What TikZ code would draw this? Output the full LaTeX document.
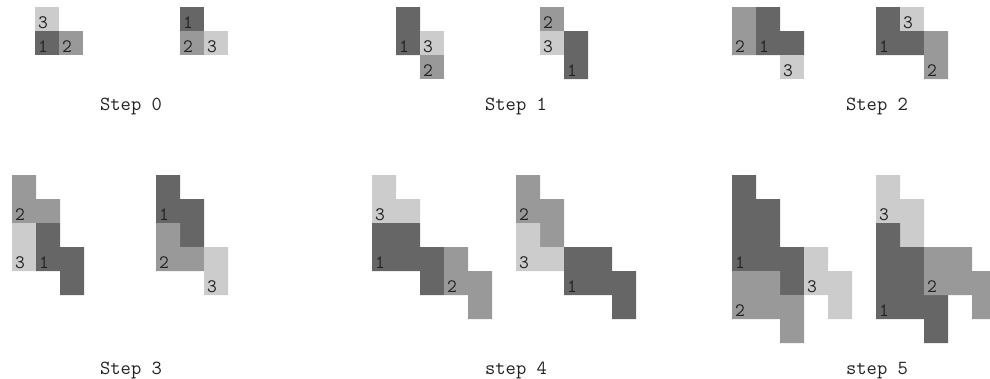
\documentclass[tikz,border=0pt]{standalone}
\usepackage{fontspec}
\definecolor{dk}{HTML}{666666}
\definecolor{md}{HTML}{999999}
\definecolor{lt}{HTML}{CCCCCC}
\definecolor{txt}{HTML}{222222}
\tikzset{
  p1/.style={fill=dk},
  p2/.style={fill=md},
  p3/.style={fill=lt},
  num/.style={anchor=base west, inner sep=0pt, text=txt, font=\ttfamily\fontsize{19}{19}\selectfont},
  steplabel/.style={anchor=base, inner sep=0pt, text=txt, font=\ttfamily\fontsize{20}{20}\selectfont}
}
\newcommand\piece[2]{\fill[#1] \foreach \px/\py in {#2} {(\px,\py) rectangle ++(24,24)};}
\begin{document}
\begin{tikzpicture}[x=1pt,y=-1pt]
\useasboundingbox (0,0) rectangle (990,378);
% ---------- Step 0 ----------
\piece{p3}{35/7}
\piece{p1}{35/31}
\piece{p2}{59/31}
\node[num] (a3) at (38,28) {3};
\node[num] (a1) at (38,52) {1};
\node[num] (a2) at (62,52) {2};
\piece{p1}{180/7}
\piece{p2}{180/31}
\piece{p3}{204/31}
\node[num] (b1) at (183,28) {1};
\node[num] (b2) at (183,52) {2};
\node[num] (b3) at (207,52) {3};
\node[steplabel] (s0) at (131,110) {Step 0};
% ---------- Step 1 ----------
\piece{p1}{396/7,396/31}
\piece{p3}{420/31}
\piece{p2}{420/55}
\node[num] (c1) at (399,52) {1};
\node[num] (c3) at (423,52) {3};
\node[num] (c2) at (423,76) {2};
\piece{p2}{540/7}
\piece{p3}{540/31}
\piece{p1}{564/31,564/55}
\node[num] (d2) at (543,28) {2};
\node[num] (d3) at (543,52) {3};
\node[num] (d1) at (567,76) {1};
\node[steplabel] (s1) at (516,110) {Step 1};
% ---------- Step 2 ----------
\piece{p2}{732/7,732/31}
\piece{p1}{756/7,756/31,780/31}
\piece{p3}{780/55}
\node[num] (e2) at (735,52) {2};
\node[num] (e1) at (759,52) {1};
\node[num] (e3) at (783,76) {3};
\piece{p1}{876/7,876/31,900/31}
\piece{p3}{900/7}
\piece{p2}{924/31,924/55}
\node[num] (f1) at (879,52) {1};
\node[num] (f3) at (903,28) {3};
\node[num] (f2) at (927,76) {2};
\node[steplabel] (s2) at (877,110) {Step 2};
% ---------- Step 3 ----------
\piece{p2}{12/175,12/199,36/199}
\piece{p3}{12/223,12/247}
\piece{p1}{36/223,36/247,60/247,60/271}
\node[num] (g2) at (15,220) {2};
\node[num] (g3) at (15,268) {3};
\node[num] (g1) at (39,268) {1};
\piece{p1}{156/175,156/199,180/199,180/223}
\piece{p2}{156/223,156/247,180/247}
\piece{p3}{204/247,204/271}
\node[num] (h1) at (159,220) {1};
\node[num] (h2) at (159,268) {2};
\node[num] (h3) at (207,292) {3};
\node[steplabel] (s3) at (131,374) {Step 3};
% ---------- step 4 ----------
\piece{p3}{372/175,372/199,396/199}
\piece{p1}{372/223,396/223,372/247,396/247,420/247,420/271}
\piece{p2}{444/247,444/271,468/271,468/295}
\node[num] (i3) at (375,220) {3};
\node[num] (i1) at (375,268) {1};
\node[num] (i2) at (447,292) {2};
\piece{p2}{516/175,516/199,540/199,540/223}
\piece{p3}{516/223,516/247,540/247}
\piece{p1}{564/247,588/247,564/271,588/271,612/271,612/295}
\node[num] (j2) at (519,220) {2};
\node[num] (j3) at (519,268) {3};
\node[num] (j1) at (567,292) {1};
\node[steplabel] (s4) at (516,374) {step 4};
% ---------- step 5 ----------
\piece{p1}{732/175,732/199,732/223,732/247,756/199,756/223,756/247,780/247,780/271}
\piece{p2}{732/271,756/271,732/295,756/295,780/295,780/319}
\piece{p3}{804/247,804/271,828/271,828/295}
\node[num] (k1) at (735,268) {1};
\node[num] (k2) at (735,316) {2};
\node[num] (k3) at (807,292) {3};
\piece{p3}{876/175,876/199,900/199,900/223}
\piece{p1}{876/223,876/247,876/271,876/295,900/247,900/271,900/295,924/295,924/319}
\piece{p2}{924/247,948/247,924/271,948/271,972/271,972/295}
\node[num] (l3) at (879,220) {3};
\node[num] (l1) at (879,316) {1};
\node[num] (l2) at (927,292) {2};
\node[steplabel] (s5) at (877,374) {step 5};
\end{tikzpicture}
\end{document}
